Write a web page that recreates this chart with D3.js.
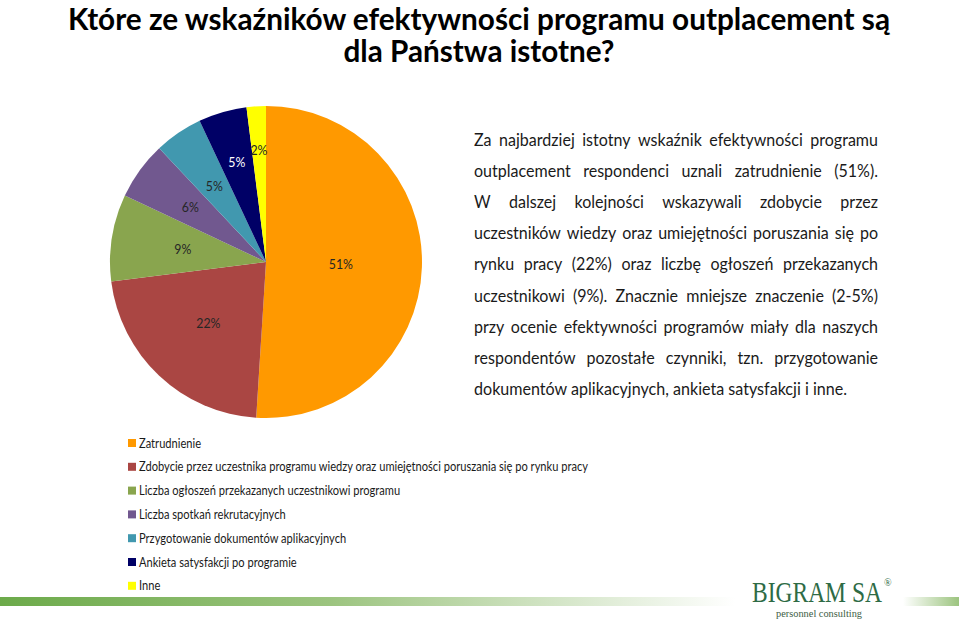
<!DOCTYPE html>
<html><head><meta charset="utf-8">
<script src="https://cdn.jsdelivr.net/npm/d3@7/dist/d3.min.js"></script>
<style>html,body{margin:0;padding:0;background:#fff;}svg{display:block;}</style>
</head><body>
<svg id="c" width="959" height="622"></svg>
<script>
const categories = [
  "Zatrudnienie",
  "Zdobycie przez uczestnika programu wiedzy oraz umiejętności poruszania się po rynku pracy",
  "Liczba ogłoszeń przekazanych uczestnikowi programu",
  "Liczba spotkań rekrutacyjnych",
  "Przygotowanie dokumentów aplikacyjnych",
  "Ankieta satysfakcji po programie",
  "Inne"
];
const values = [51, 22, 9, 6, 5, 5, 2];
const colors = ["#FF9900", "#AA4643", "#89A54E", "#71588F", "#4198AF", "#000066", "#FFFF00"];
const titleLines = ["Które ze wskaźników efektywności programu outplacement są", "dla Państwa istotne?"];
const paragraphLines = [
  "Za najbardziej istotny wskaźnik efektywności programu",
  "outplacement respondenci uznali zatrudnienie (51%).",
  "W dalszej kolejności wskazywali zdobycie przez",
  "uczestników wiedzy oraz umiejętności poruszania się po",
  "rynku pracy (22%) oraz liczbę ogłoszeń przekazanych",
  "uczestnikowi (9%). Znacznie mniejsze znaczenie (2-5%)",
  "przy ocenie efektywności programów miały dla naszych",
  "respondentów pozostałe czynniki, tzn. przygotowanie",
  "dokumentów aplikacyjnych, ankieta satysfakcji i inne."
];

const svg = d3.select("#c");
const FONT = "Lato, 'Open Sans', sans-serif";
const SERIF = "'Liberation Serif', 'DejaVu Serif', serif";

function measure(text, size, weight, family) {
  const t = svg.append("text").attr("font-family", family).attr("font-size", size)
    .attr("font-weight", weight).text(text);
  const w = t.node().getComputedTextLength();
  t.remove();
  return w;
}

// gradient defs
const defs = svg.append("defs");
const g1 = defs.append("linearGradient").attr("id", "barL").attr("x1", "0").attr("x2", "1");
g1.append("stop").attr("offset", "0").attr("stop-color", "#6CAA4A");
g1.append("stop").attr("offset", "0.45").attr("stop-color", "#9CC47F");
g1.append("stop").attr("offset", "1").attr("stop-color", "#ffffff");
const g2 = defs.append("linearGradient").attr("id", "barR").attr("x1", "0").attr("x2", "1");
g2.append("stop").attr("offset", "0").attr("stop-color", "#ffffff");
g2.append("stop").attr("offset", "1").attr("stop-color", "#9CC47F");

// Title
const titleW = [822, 271];
svg.append("g").selectAll("text").data(titleLines).join("text")
  .attr("x", (d, i) => 479 - titleW[i] / 2).attr("y", (d, i) => 30 + i * 32)
  .attr("font-family", FONT).attr("font-weight", "bold")
  .attr("font-size", 31).attr("fill", "#000")
  .attr("textLength", (d, i) => titleW[i]).attr("lengthAdjust", "spacingAndGlyphs")
  .text(d => d);

// Pie
const cx = 266, cy = 262, R = 156;
const pie = d3.pie().sort(null).value(d => d)(values);
const arc = d3.arc().innerRadius(0).outerRadius(R);
const total = d3.sum(values);
const gp = svg.append("g").attr("transform", `translate(${cx},${cy})`);
gp.selectAll("path").data(pie).join("path")
  .attr("d", arc).attr("fill", (d, i) => colors[i]);
function labelR(d) {
  const f = d.value / total;
  if (f > 0.4) return 0.48 * R;
  if (f > 0.07) return 0.54 * R;
  if (f > 0.055) return 0.6 * R;
  if (f > 0.03) return d.index === 4 ? 0.59 * R : 0.67 * R;
  return 0.72 * R;
}
const labSize = 14;
gp.selectAll("text").data(pie).join("text")
  .attr("transform", d => {
    const a = (d.startAngle + d.endAngle) / 2, r = labelR(d);
    return `translate(${Math.sin(a) * r},${-Math.cos(a) * r})`;
  })
  .attr("text-anchor", "middle").attr("dy", "0.35em")
  .attr("font-family", FONT).attr("font-size", labSize)
  .attr("fill", (d, i) => i === 5 ? "#ffffff" : "#262626")
  .each(function(d) {
    const s = d3.format(".0f")(d.value / total * 100) + "%";
    const w = measure(s, labSize, "normal", FONT);
    d3.select(this).attr("textLength", w * 0.88).attr("lengthAdjust", "spacingAndGlyphs").text(s);
  });

// Paragraph (justified)
const pFont = 18;
const lastWords = paragraphLines[8].split(" ");
const spaceGap = 4.3;
const pComp = (373 - spaceGap * (lastWords.length - 1)) / d3.sum(lastWords, w => measure(w, pFont, "normal", FONT));
const gx = 474, gw = 404;
const gpar = svg.append("g");
paragraphLines.forEach((line, i) => {
  const y = 146 + i * 31.1;
  const t = gpar.append("text").attr("y", y).attr("font-family", FONT)
    .attr("font-size", pFont).attr("fill", "#1a1a1a");
  if (i === paragraphLines.length - 1) {
    t.attr("x", gx).attr("textLength", 373).attr("lengthAdjust", "spacingAndGlyphs").text(line);
    return;
  }
  const words = line.split(" ");
  const ws = words.map(w => measure(w, pFont, "normal", FONT) * pComp);
  const gap = (gw - d3.sum(ws)) / (words.length - 1);
  let x = gx;
  words.forEach((w, j) => {
    t.append("tspan").attr("x", x)
      .attr("textLength", ws[j]).attr("lengthAdjust", "spacingAndGlyphs").text(w);
    x += ws[j] + gap;
  });
});

// Legend
const lFont = 13;
const lComp = 449 / measure(categories[1], lFont, "normal", FONT);
const gl = svg.append("g").selectAll("g").data(categories).join("g")
  .attr("transform", (d, i) => `translate(128,${443 + i * 23.8})`);
gl.append("rect").attr("x", 0).attr("y", -4).attr("width", 8).attr("height", 8)
  .attr("fill", (d, i) => colors[i]);
gl.append("text").attr("x", 11).attr("y", 0).attr("dy", "0.35em")
  .attr("font-family", FONT).attr("font-size", lFont).attr("fill", "#1a1a1a")
  .attr("textLength", d => measure(d, lFont, "normal", FONT) * lComp).attr("lengthAdjust", "spacingAndGlyphs")
  .text(d => d);

// Bottom bars
svg.append("rect").attr("x", 0).attr("y", 597).attr("width", 735).attr("height", 9).attr("fill", "url(#barL)");
svg.append("rect").attr("x", 903).attr("y", 597).attr("width", 56).attr("height", 9).attr("fill", "url(#barR)");

// Logo
const logoFs = 30 * 130 / measure("BIGRAM SA", 30, "normal", SERIF);
svg.append("text").attr("transform", `translate(752,602) scale(1,${30 / logoFs})`)
  .attr("font-family", SERIF)
  .attr("font-size", logoFs).attr("fill", "#2E6B45")
  .text("BIGRAM SA");
svg.append("text").attr("x", 884).attr("y", 586).attr("font-family", SERIF)
  .attr("font-size", 10).attr("fill", "#2E6B45").text("®");
svg.append("text").attr("x", 776).attr("y", 617).attr("font-family", SERIF)
  .attr("font-size", 11).attr("fill", "#3d5e45").attr("textLength", 86).attr("lengthAdjust", "spacingAndGlyphs")
  .text("personnel consulting");
</script>
</body></html>
